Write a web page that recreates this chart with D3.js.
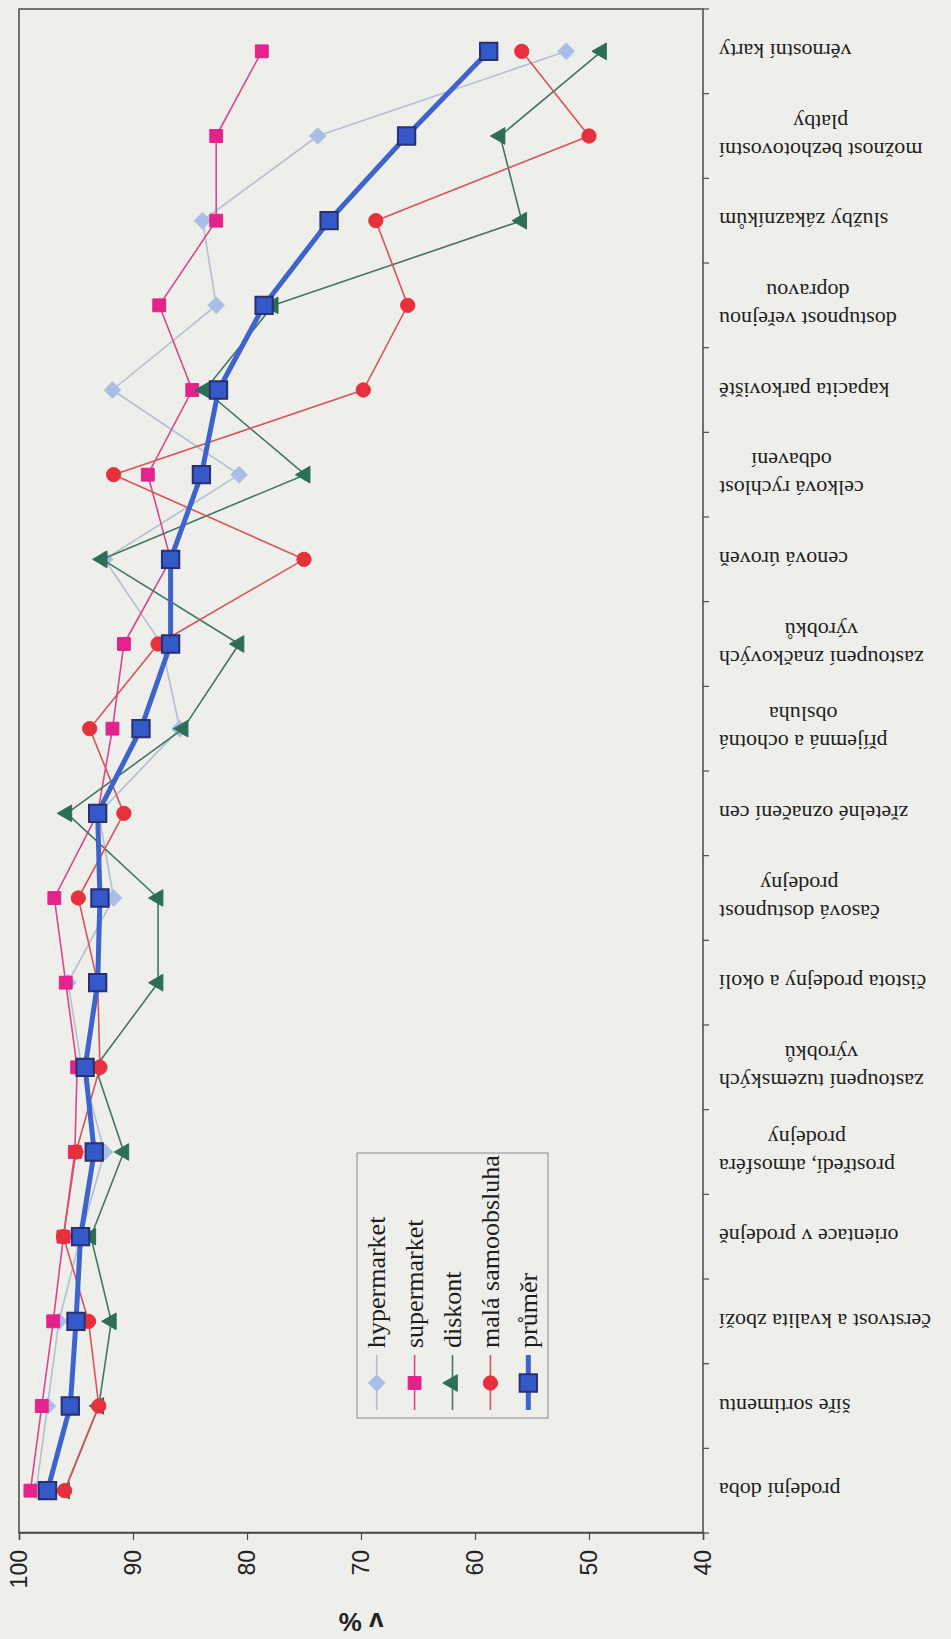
<!DOCTYPE html>
<html>
<head>
<meta charset="utf-8">
<script src="https://cdn.jsdelivr.net/npm/d3@7"></script>
<style>
  html, body { margin: 0; padding: 0; background: #eeeeea; }
  svg { display: block; }
</style>
</head>
<body>
<script>
// Hodnocení faktorů výběru prodejny podle typu prodejny (v %)
const categories = [
  "prodejní doba",
  "šíře sortimentu",
  "čerstvost a kvalita zboží",
  "orientace v prodejně",
  "prostředí, atmosféra|prodejny",
  "zastoupení tuzemských|výrobků",
  "čistota prodejny a okolí",
  "časová dostupnost|prodejny",
  "zřetelné označení cen",
  "příjemná a ochotná|obsluha",
  "zastoupení značkových|výrobků",
  "cenová úroveň",
  "celková rychlost|odbavení",
  "kapacita parkoviště",
  "dostupnost veřejnou|dopravou",
  "služby zákazníkům",
  "možnost bezhotovostní|platby",
  "věrnostní karty"
];

const hypermarket     = [98.5, 97.5, 96.5, 94.6, 92.5, 94.5, 95.7, 91.7, 93.0, 85.9, 87.5, 92.5, 80.7, 91.8, 82.7, 83.9, 73.8, 52.0];
const supermarket     = [99.0, 98.0, 97.0, 96.1, 95.1, 94.9, 95.9, 96.9, 93.1, 91.8, 90.8, 86.7, 88.7, 84.8, 87.7, 82.7, 82.7, 78.7];
const diskont         = [96.0, 93.0, 91.9, 93.7, 90.8, 93.3, 87.8, 87.8, 95.8, 85.6, 80.7, 92.7, 74.9, 83.7, 77.7, 55.9, 57.8, 48.9];
const malaSamoobsluha = [96.0, 93.0, 93.9, 96.1, 95.0, 92.9, 93.1, 94.8, 90.8, 93.8, 87.8, 75.0, 91.7, 69.8, 65.9, 68.7, 50.0, 55.9];
const prumer          = [97.5, 95.5, 95.0, 94.6, 93.4, 94.2, 93.1, 92.9, 93.1, 89.3, 86.7, 86.7, 84.0, 82.5, 78.5, 72.8, 66.0, 58.8];

const seriesNames = ["hypermarket", "supermarket", "diskont", "malá samoobsluha", "průměr"];
const valueTicks = [100, 90, 80, 70, 60, 50, 40];
const axisTitle = "v %";

// Vzhled řad
const styles = [
  { values: hypermarket,     line: "#b3bfd3", lw: 1.6, fill: "#a9bee6", stroke: "#a9bee6", sym: "diamond",  size: 130 },
  { values: supermarket,     line: "#d8468d", lw: 1.6, fill: "#e3228c", stroke: "#e3228c", sym: "square",   size: 165 },
  { values: diskont,         line: "#3f7763", lw: 1.6, fill: "#2c6e56", stroke: "#2c6e56", sym: "triangle", size: 120 },
  { values: malaSamoobsluha, line: "#d8545a", lw: 1.6, fill: "#e6313c", stroke: "#e6313c", sym: "circle",   size: 160 },
  { values: prumer,          line: "#3e63cc", lw: 5,   fill: "#3459c9", stroke: "#2b2f6c", sym: "square",   size: 300, sw: 2 }
];

const WIDTH = 951, HEIGHT = 1639;
const W = 1524;   // délka kategoriální osy
const H = 684;    // délka hodnotové osy
const ORIGIN_X = 19, ORIGIN_Y = 1533;

const svg = d3.select("body").append("svg")
  .attr("width", WIDTH).attr("height", HEIGHT)
  .style("background", "#eeeeea");

// Graf je otočen o 90° proti směru hodinových ručiček
const g = svg.append("g")
  .attr("transform", `translate(${ORIGIN_X},${ORIGIN_Y}) rotate(-90)`);

const x = d3.scaleBand().domain(categories).range([0, W]);
const y = d3.scaleLinear().domain([40, 100]).range([H, 0]);

// rámeček vykreslovací plochy
g.append("rect")
  .attr("x", 0).attr("y", 0).attr("width", W).attr("height", H)
  .attr("fill", "none").attr("stroke", "#4a4a4a").attr("stroke-width", 1.5);

// hodnotová osa
const yAxis = g.append("g")
  .call(d3.axisLeft(y).tickValues(valueTicks).tickSize(7).tickPadding(10));
yAxis.select(".domain").attr("stroke", "#4a4a4a").attr("stroke-width", 1.5);
yAxis.selectAll(".tick line").attr("stroke", "#4a4a4a").attr("stroke-width", 1.2);
yAxis.selectAll(".tick text")
  .attr("fill", "#222")
  .style("font-family", "'Liberation Sans', Arial, sans-serif")
  .style("font-size", "23px");

// název hodnotové osy
g.append("text")
  .attr("transform", `translate(-89,${H / 2}) rotate(-90)`)
  .attr("text-anchor", "middle")
  .attr("dominant-baseline", "central")
  .style("font-family", "'Liberation Sans', Arial, sans-serif")
  .style("font-weight", "bold")
  .style("font-size", "26px")
  .attr("fill", "#222")
  .text(axisTitle);

// značky kategoriální osy na hranicích kategorií
const bounds = categories.map(c => x(c)).concat([x(categories[categories.length - 1]) + x.bandwidth()]);
g.append("g").selectAll("line").data(bounds).join("line")
  .attr("x1", d => d).attr("x2", d => d)
  .attr("y1", H).attr("y2", H + 6)
  .attr("stroke", "#4a4a4a").attr("stroke-width", 1.2);

// popisky kategorií (text otočený vzhůru nohama, zarovnaný k ose)
const labelLayer = svg.append("g");
const LINE_H = 28;
categories.forEach(c => {
  const lines = c.split("|");
  const yc = ORIGIN_Y - (x(c) + x.bandwidth() / 2);
  const lg = labelLayer.append("g")
    .attr("transform", `translate(719,${yc}) rotate(180)`);
  const texts = lines.map((t, i) => lg.append("text")
    .attr("y", (i - (lines.length - 1) / 2) * LINE_H)
    .attr("text-anchor", "middle")
    .attr("dominant-baseline", "central")
    .style("font-family", "'Liberation Serif', 'Times New Roman', serif")
    .style("font-size", "22px")
    .attr("fill", "#1e1e1e")
    .text(t));
  const maxW = d3.max(texts, t => t.node().getComputedTextLength());
  texts.forEach(t => t.attr("x", -maxW / 2));
});

const symbolOf = s => s === "circle" ? d3.symbolCircle
  : s === "triangle" ? d3.symbolTriangle
  : d3.symbolSquare;

function drawMarker(sel, st) {
  sel.attr("d", d3.symbol().type(symbolOf(st.sym)).size(st.size)())
    .attr("fill", st.fill)
    .attr("stroke", st.stroke)
    .attr("stroke-width", st.sw || 1);
}

const line = d3.line()
  .x((d, i) => x(categories[i]) + x.bandwidth() / 2)
  .y(d => y(d));

// řady
styles.forEach(st => {
  const sg = g.append("g");
  sg.append("path")
    .attr("d", line(st.values))
    .attr("fill", "none")
    .attr("stroke", st.line)
    .attr("stroke-width", st.lw)
    .attr("stroke-linejoin", "round");
  sg.selectAll("path.m").data(st.values).join("path")
    .attr("class", "m")
    .attr("transform", (d, i) => {
      const px = x(categories[i]) + x.bandwidth() / 2;
      return `translate(${px},${y(d)})` + (st.sym === "diamond" ? " rotate(45)" : "");
    })
    .call(drawMarker, st);
});

// legenda
const leg = g.append("g");
leg.append("rect")
  .attr("x", 115).attr("y", 338).attr("width", 265).attr("height", 191)
  .attr("fill", "#eeeeea").attr("stroke", "#8a8a8a").attr("stroke-width", 1);
styles.forEach((st, i) => {
  const ly = 357.7 + i * 37.9;
  const eg = leg.append("g");
  eg.append("line")
    .attr("x1", 123).attr("x2", 178).attr("y1", ly).attr("y2", ly)
    .attr("stroke", st.line).attr("stroke-width", st.lw);
  eg.append("path")
    .attr("transform", `translate(150,${ly})` + (st.sym === "diamond" ? " rotate(45)" : ""))
    .call(drawMarker, st);
  eg.append("text")
    .attr("x", 185).attr("y", ly)
    .attr("dominant-baseline", "central")
    .style("font-family", "'Liberation Serif', 'Times New Roman', serif")
    .style("font-size", "26px")
    .attr("fill", "#1e1e1e")
    .text(seriesNames[i]);
});
</script>
</body>
</html>
